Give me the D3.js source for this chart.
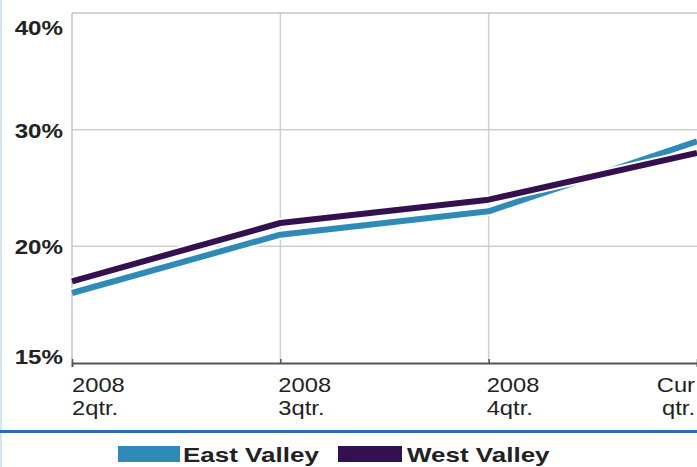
<!DOCTYPE html>
<html>
<head>
<meta charset="utf-8">
<script src="https://cdn.jsdelivr.net/npm/d3@7"></script>
<style>
  body { margin: 0; background: #fff; }
  text { font-family: "Liberation Sans", Arial, sans-serif; fill: #222; }
</style>
</head>
<body>
<script>
var w = 697;
var h = 467;

// data
var quarters = ["2008 2qtr.", "2008 3qtr.", "2008 4qtr.", "Cur qtr."];
var quarterLines = [["2008", "2qtr."], ["2008", "3qtr."], ["2008", "4qtr."], ["Cur", "qtr."]];
var eastValley = [16, 21, 23, 29];
var westValley = [17, 22, 24, 28];
var yTicks = [10, 20, 30, 40];
var yTickLabels = ["15%", "20%", "30%", "40%"];
var seriesNames = ["East Valley", "West Valley"];
var seriesColors = ["#2f8bb6", "#34104f"];

var plot = {left: 72, top: 13, right: 697, bottom: 363};

var xScale = d3.scalePoint()
    .domain(quarters)
    .range([plot.left, plot.right]);

var yScale = d3.scaleLinear()
    .domain([10, 40])
    .range([plot.bottom, plot.top]);

var svg = d3.select("body")
    .append("svg")
    .attr("width", w)
    .attr("height", h);

svg.append("rect").attr("width", w).attr("height", h).attr("fill", "#fff");
// faint page edge on the left
svg.append("rect").attr("x", 0).attr("y", 0).attr("width", 2).attr("height", h).attr("fill", "#d6e4f2");

// gridlines
svg.selectAll("line.hgrid")
    .data(yTicks.filter(function(d){ return d > 10 && d < 40; }))
    .enter().append("line")
    .attr("class", "hgrid")
    .attr("x1", plot.left).attr("x2", plot.right)
    .attr("y1", function(d){ return yScale(d); })
    .attr("y2", function(d){ return yScale(d); })
    .attr("stroke", "#cfcfcf").attr("stroke-width", 1.5);

svg.selectAll("line.vgrid")
    .data(quarters.slice(1, 3))
    .enter().append("line")
    .attr("class", "vgrid")
    .attr("x1", function(d){ return xScale(d); })
    .attr("x2", function(d){ return xScale(d); })
    .attr("y1", plot.top).attr("y2", plot.bottom)
    .attr("stroke", "#cfcfcf").attr("stroke-width", 1.5);

// frame: top and left light, bottom darker
svg.append("line")
    .attr("x1", plot.left).attr("x2", plot.right)
    .attr("y1", plot.top).attr("y2", plot.top)
    .attr("stroke", "#c4c4c4").attr("stroke-width", 1.5);
svg.append("line")
    .attr("x1", plot.left).attr("x2", plot.left)
    .attr("y1", plot.top).attr("y2", plot.bottom)
    .attr("stroke", "#c4c4c4").attr("stroke-width", 1.5);

// x axis
var xAxis = d3.axisBottom(xScale).tickSize(4).tickFormat("");
var gx = svg.append("g")
    .attr("transform", "translate(0," + plot.bottom + ")")
    .call(xAxis);
gx.select(".domain").attr("stroke", "#555").attr("stroke-width", 2);
gx.selectAll(".tick line").attr("stroke", "#555").attr("stroke-width", 1.5)
    .attr("y2", -4);

// x labels, two lines each
quarters.forEach(function(q, i) {
    var last = i === quarters.length - 1;
    var x = last ? w - 2 : xScale(q) - 2 * (i > 0);
    var t = svg.append("text")
        .attr("transform", "translate(" + x + ",0) scale(1.13,1)")
        .attr("text-anchor", last ? "end" : "start")
        .style("font-size", "21px");
    quarterLines[i].forEach(function(s, j) {
        t.append("tspan").attr("x", 0).attr("y", 392 + j * 23).text(s);
    });
});

// y labels, held inside the plot height
svg.selectAll("text.ylab")
    .data(yTicks)
    .enter().append("text")
    .attr("class", "ylab")
    .attr("text-anchor", "end")
    .style("font-size", "21px")
    .style("font-weight", "bold")
    .attr("transform", function(d) {
        var y = Math.max(plot.top + 22, Math.min(plot.bottom + 1, yScale(d) + 8));
        return "translate(63," + y + ") scale(1.15,1)";
    })
    .text(function(d, i) { return yTickLabels[i]; });

// lines
var line = d3.line()
    .x(function(d, i) { return xScale(quarters[i]); })
    .y(function(d) { return yScale(d); });

var series = [eastValley, westValley];
series.forEach(function(s, i) {
    svg.append("path")
        .attr("d", line(s))
        .attr("fill", "none")
        .attr("stroke", "#fff")
        .attr("stroke-width", 10)
        .attr("stroke-linejoin", "round");
    svg.append("path")
        .attr("d", line(s))
        .attr("fill", "none")
        .attr("stroke", seriesColors[i])
        .attr("stroke-width", 6)
        .attr("stroke-linejoin", "round");
});

// blue separator
svg.append("rect")
    .attr("x", 0).attr("y", 430).attr("width", w).attr("height", 3)
    .attr("fill", "#2d6db6");

// legend
var legendX = [118, 338];
seriesNames.forEach(function(name, i) {
    svg.append("rect")
        .attr("x", legendX[i]).attr("y", 446)
        .attr("width", i === 0 ? 62 : 64).attr("height", 16)
        .attr("fill", seriesColors[i]);
    svg.append("text")
        .attr("transform", "translate(" + (legendX[i] + (i === 0 ? 65 : 69)) + ",462) scale(1.3,1)")
        .style("font-size", "20px")
        .style("font-weight", "bold")
        .text(name);
});
</script>
</body>
</html>
